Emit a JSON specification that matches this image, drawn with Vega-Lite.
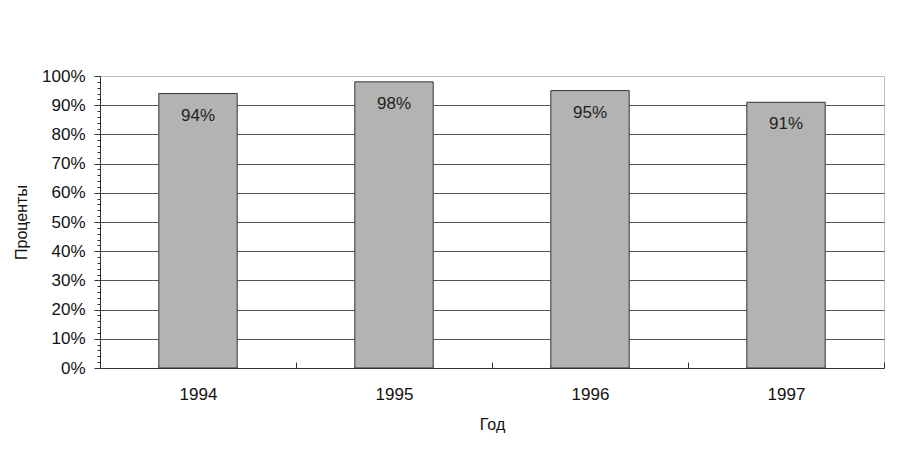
{
  "$schema": "https://vega.github.io/schema/vega-lite/v6.json",
  "width": 784,
  "height": 292,
  "autosize": "none",
  "padding": {"left": 100, "top": 76, "right": 18, "bottom": 105},
  "background": "white",
  "config": {
    "view": {"stroke": "#bdbdbd", "strokeWidth": 1},
    "font": "Liberation Sans"
  },
  "data": {
    "values": [
      {"year": "1994", "share": 0.94},
      {"year": "1995", "share": 0.98},
      {"year": "1996", "share": 0.95},
      {"year": "1997", "share": 0.91}
    ]
  },
  "encoding": {
    "x": {
      "field": "year",
      "type": "nominal",
      "scale": {"paddingInner": 0, "paddingOuter": 0},
      "axis": {
        "title": "Год",
        "labelAngle": 0,
        "labelFontSize": 17,
        "labelColor": "#111",
        "labelPadding": 24,
        "titleFontSize": 16,
        "titleFontWeight": "normal",
        "titleColor": "#111",
        "titlePadding": 14,
        "tickBand": "extent",
        "tickSize": -6,
        "tickColor": "#333",
        "domainColor": "#333",
        "grid": false
      }
    }
  },
  "layer": [
    {
      "mark": {"type": "bar", "width": {"band": 0.4}, "fill": "#b3b3b3", "stroke": "#333", "strokeWidth": 1},
      "encoding": {
        "y": {
          "field": "share",
          "type": "quantitative",
          "scale": {"domain": [0, 1], "nice": false},
          "axis": {
            "title": "Проценты",
            "values": [0, 0.02, 0.04, 0.06, 0.08, 0.1, 0.12, 0.14, 0.16, 0.18, 0.2, 0.22, 0.24, 0.26, 0.28, 0.3, 0.32, 0.34, 0.36, 0.38, 0.4, 0.42, 0.44, 0.46, 0.48, 0.5, 0.52, 0.54, 0.56, 0.58, 0.6, 0.62, 0.64, 0.66, 0.68, 0.7, 0.72, 0.74, 0.76, 0.78, 0.8, 0.82, 0.84, 0.86, 0.88, 0.9, 0.92, 0.94, 0.96, 0.98, 1],
            "tickCount": 60,
            "labelExpr": "round(datum.value * 100) % 10 === 0 ? round(datum.value * 100) + '%' : ''",
            "labelOverlap": false,
            "labelBound": false,
            "labelFlush": false,
            "labelFontSize": 17,
            "labelColor": "#111",
            "labelPadding": 9,
            "tickColor": "#333",
            "tickSize": {"condition": {"test": "round(datum.value * 100) % 10 === 0", "value": 6}, "value": 3},
            "domainColor": "#333",
            "grid": true,
            "gridColor": "#555",
            "gridOpacity": {"condition": {"test": "round(datum.value * 100) % 10 === 0 && datum.value > 0.05 && datum.value < 0.95", "value": 1}, "value": 0},
            "titleFontSize": 16,
            "titleFontWeight": "normal",
            "titleColor": "#111",
            "titlePadding": 12
          }
        }
      }
    },
    {
      "mark": {"type": "text", "baseline": "middle", "dy": 22, "fontSize": 17, "color": "#222"},
      "encoding": {
        "y": {"field": "share", "type": "quantitative"},
        "text": {"field": "share", "type": "quantitative", "format": ".0%"}
      }
    }
  ]
}
